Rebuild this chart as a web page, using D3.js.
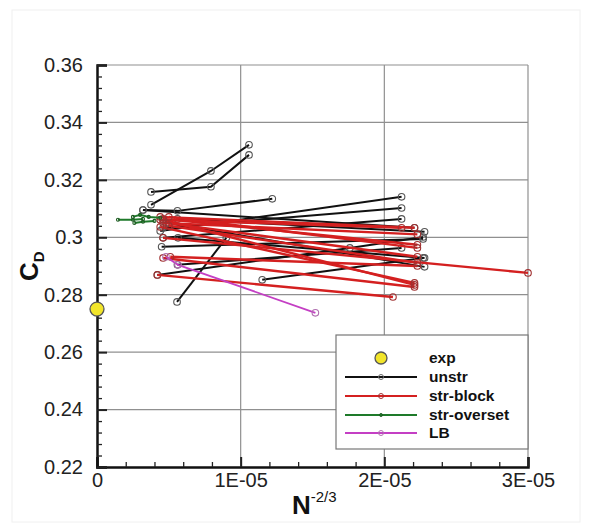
<!DOCTYPE html>
<html>
<head>
<meta charset="utf-8">
<script src="https://cdn.jsdelivr.net/npm/d3@7.9.0/dist/d3.min.js"></script>
<style>
  body { margin: 0; background: #fff; }
  svg { display: block; font-family: "Liberation Sans", Arial, sans-serif; }
</style>
</head>
<body>
<svg id="chart" width="592" height="529"></svg>
<script>
// ---- data ----
const xTicks = [0, 1e-5, 2e-5, 3e-5];
const xTickLabels = ["0", "1E-05", "2E-05", "3E-05"];
const yTicks = [0.22, 0.24, 0.26, 0.28, 0.30, 0.32, 0.34, 0.36];
const yTickLabels = ["0.22", "0.24", "0.26", "0.28", "0.3", "0.32", "0.34", "0.36"];

const expPoint = [[0, 0.275]];

const unstrLines = [
  [[3.76e-6, 0.3113], [7.93e-6, 0.3231], [1.058e-5, 0.3322]],
  [[3.76e-6, 0.3158], [7.93e-6, 0.3176], [1.058e-5, 0.3287]],
  [[3.2e-6, 0.3095], [5.6e-6, 0.3092], [1.22e-5, 0.3134]],
  [[3.2e-6, 0.3095], [2.21e-5, 0.3033]],
  [[4.4e-6, 0.3022], [2.12e-5, 0.3141]],
  [[4.6e-6, 0.3033], [2.12e-5, 0.3102]],
  [[4.6e-6, 0.2998], [2.12e-5, 0.3064]],
  [[4.5e-6, 0.2967], [2.27e-5, 0.2994]],
  [[5.6e-6, 0.2904], [2.12e-5, 0.2963]],
  [[5.57e-6, 0.2775], [9.0e-6, 0.2998]],
  [[1.15e-5, 0.2852], [2.27e-5, 0.2928]],
  [[4.2e-6, 0.2869], [1.76e-5, 0.2963], [2.27e-5, 0.3001]],
  [[5.6e-6, 0.3064], [2.28e-5, 0.3019]],
  [[5.0e-6, 0.3050], [2.28e-5, 0.2897]],
  [[5.64e-6, 0.2998], [2.28e-5, 0.2928]]
];

const strBlockLines = [
  [[4.4e-6, 0.3071], [2.21e-5, 0.3033]],
  [[4.6e-6, 0.3064], [2.23e-5, 0.2974]],
  [[4.8e-6, 0.3050], [2.23e-5, 0.2932]],
  [[5.0e-6, 0.3040], [2.23e-5, 0.2911]],
  [[4.4e-6, 0.3036], [2.21e-5, 0.2841]],
  [[4.6e-6, 0.3061], [2.21e-5, 0.2834]],
  [[4.6e-6, 0.2998], [3.0e-5, 0.2876]],
  [[4.2e-6, 0.2869], [2.06e-5, 0.2792]],
  [[4.6e-6, 0.2928], [2.21e-5, 0.2827]],
  [[5.1e-6, 0.2932], [2.23e-5, 0.2900]],
  [[4.4e-6, 0.3061], [2.12e-5, 0.3033]],
  [[4.6e-6, 0.3050], [2.23e-5, 0.3010]],
  [[5.0e-6, 0.3071], [2.23e-5, 0.2963]]
];

const strOversetLines = [
  [[1.46e-6, 0.3061], [2.5e-6, 0.3061], [3.2e-6, 0.3064]],
  [[2.5e-6, 0.3071], [3.0e-6, 0.3078], [3.6e-6, 0.3071], [4.4e-6, 0.3068]],
  [[2.6e-6, 0.3050], [3.2e-6, 0.3054], [4.0e-6, 0.3057]]
];

const lbLines = [
  [[4.8e-6, 0.2932], [5.64e-6, 0.2904], [1.52e-5, 0.2737]]
];

const legendLabels = ["exp", "unstr", "str-block", "str-overset", "LB"];

// ---- layout ----
const svg = d3.select("#chart");
const margin = { left: 97, right: 64, top: 65, bottom: 62 };
const W = 592, H = 529;

const x = d3.scaleLinear().domain([0, 3e-5]).range([margin.left, W - margin.right]);
const y = d3.scaleLinear().domain([0.22, 0.36]).range([H - margin.bottom, margin.top]);

// faint outer frame
svg.append("rect")
  .attr("x", 12).attr("y", 10).attr("width", 568).attr("height", 512)
  .attr("fill", "none").attr("stroke", "#f0f0f0");

// gridlines
const grid = svg.append("g").attr("stroke", "#909090").attr("stroke-width", 1.2);
grid.selectAll("line.gx").data(xTicks.slice(1)).join("line")
  .attr("x1", d => x(d)).attr("x2", d => x(d))
  .attr("y1", y(0.22)).attr("y2", y(0.36));
grid.selectAll("line.gy").data(yTicks.slice(1)).join("line")
  .attr("x1", x(0)).attr("x2", x(3e-5))
  .attr("y1", d => y(d)).attr("y2", d => y(d));

// minor ticks
const xMinor = d3.range(0, 3e-5 + 1e-12, 2e-6).filter((d, i) => i % 5 !== 0);
const yMinor = d3.range(0.22, 0.36 + 1e-9, 0.004).filter((d, i) => i % 5 !== 0);

const xAxis = svg.append("g")
  .attr("transform", `translate(0,${y(0.22)})`)
  .call(d3.axisBottom(x).tickValues(xTicks).tickSize(-10).tickPadding(6)
    .tickFormat((d, i) => xTickLabels[i]));
svg.append("g")
  .attr("transform", `translate(0,${y(0.22)})`)
  .call(d3.axisBottom(x).tickValues(xMinor).tickSize(-5).tickFormat(""))
  .call(g => g.select(".domain").remove());

const yAxis = svg.append("g")
  .attr("transform", `translate(${x(0)},0)`)
  .call(d3.axisLeft(y).tickValues(yTicks).tickSize(-10).tickPadding(14)
    .tickFormat((d, i) => yTickLabels[i]));
svg.append("g")
  .attr("transform", `translate(${x(0)},0)`)
  .call(d3.axisLeft(y).tickValues(yMinor).tickSize(-5).tickFormat(""))
  .call(g => g.select(".domain").remove());

svg.selectAll(".tick line").attr("stroke", "#222").attr("stroke-width", 1.3);
xAxis.selectAll(".tick line").attr("stroke-width", 2);
yAxis.selectAll(".tick line").attr("stroke-width", 2);
[xAxis, yAxis].forEach(a => {
  a.select(".domain").attr("stroke", "#111").attr("stroke-width", 2.5);
  a.selectAll(".tick text").attr("font-size", 20).attr("fill", "#222")
    .attr("font-family", "'Liberation Sans', Arial, sans-serif");
});
xAxis.selectAll(".tick text").attr("dy", "0.71em");

// axis titles
const xt = svg.append("text")
  .attr("x", 292).attr("y", 514)
  .attr("text-anchor", "start")
  .attr("font-weight", "bold").attr("font-size", 26).attr("fill", "#111");
xt.append("tspan").text("N");
xt.append("tspan").attr("dy", -12).attr("font-size", 15).attr("font-weight", "normal").text("-2/3");

const yt = svg.append("text")
  .attr("transform", "translate(38,281) rotate(-90)")
  .attr("text-anchor", "start")
  .attr("font-weight", "bold").attr("font-size", 26).attr("fill", "#111");
yt.append("tspan").text("C");
yt.append("tspan").attr("dy", 6).attr("font-size", 15).text("D");

// ---- series ----
const line = d3.line().x(d => x(d[0])).y(d => y(d[1]));

function drawSeries(lines, color, markerR, markerStroke, lw) {
  const g = svg.append("g");
  g.selectAll("path").data(lines).join("path")
    .attr("d", line)
    .attr("fill", "none")
    .attr("stroke", color)
    .attr("stroke-width", lw);
  g.selectAll("circle").data(lines.flat()).join("circle")
    .attr("cx", d => x(d[0])).attr("cy", d => y(d[1]))
    .attr("r", markerR)
    .attr("fill", "none")
    .attr("stroke", markerStroke)
    .attr("stroke-width", 1.1);
}

drawSeries(unstrLines, "#111", 3.3, "#555", 2);
drawSeries(strBlockLines, "#d42020", 3.3, "#a03030", 2.4);
drawSeries(strOversetLines, "#1e7a2a", 1.5, "#1e5a22", 2);
drawSeries(lbLines, "#c43fc4", 3.3, "#b070b0", 1.8);

svg.append("g").selectAll("circle").data(expPoint).join("circle")
  .attr("cx", d => x(d[0])).attr("cy", d => y(d[1]))
  .attr("r", 7)
  .attr("fill", "#f2e52a").attr("stroke", "#555").attr("stroke-width", 1.3);

// ---- legend ----
const lg = svg.append("g");
lg.append("rect")
  .attr("x", 336).attr("y", 335).attr("width", 192).attr("height", 114)
  .attr("fill", "#fff").attr("stroke", "#777").attr("stroke-width", 1.2);

const legendStyles = [
  { color: null, stroke: "#555" },
  { color: "#111", stroke: "#666", r: 2.5 },
  { color: "#d42020", stroke: "#a03030", r: 2.5 },
  { color: "#1e7a2a", stroke: "#1e5a22", r: 1.5 },
  { color: "#c43fc4", stroke: "#b070b0", r: 2.5 }
];
const legendY = [358, 377, 396, 415, 433];

legendLabels.forEach((lab, i) => {
  const st = legendStyles[i];
  const yy = legendY[i];
  if (st.color) {
    lg.append("line").attr("x1", 345).attr("x2", 417).attr("y1", yy).attr("y2", yy)
      .attr("stroke", st.color).attr("stroke-width", 2);
    lg.append("circle").attr("cx", 381).attr("cy", yy).attr("r", st.r)
      .attr("fill", "none").attr("stroke", st.stroke);
  } else {
    lg.append("circle").attr("cx", 381).attr("cy", yy).attr("r", 6)
      .attr("fill", "#f2e52a").attr("stroke", "#555").attr("stroke-width", 1.3);
  }
  lg.append("text").attr("x", 429).attr("y", yy + 5)
    .attr("font-size", 15.5).attr("font-weight", "bold").attr("fill", "#111")
    .text(lab);
});
</script>
</body>
</html>
